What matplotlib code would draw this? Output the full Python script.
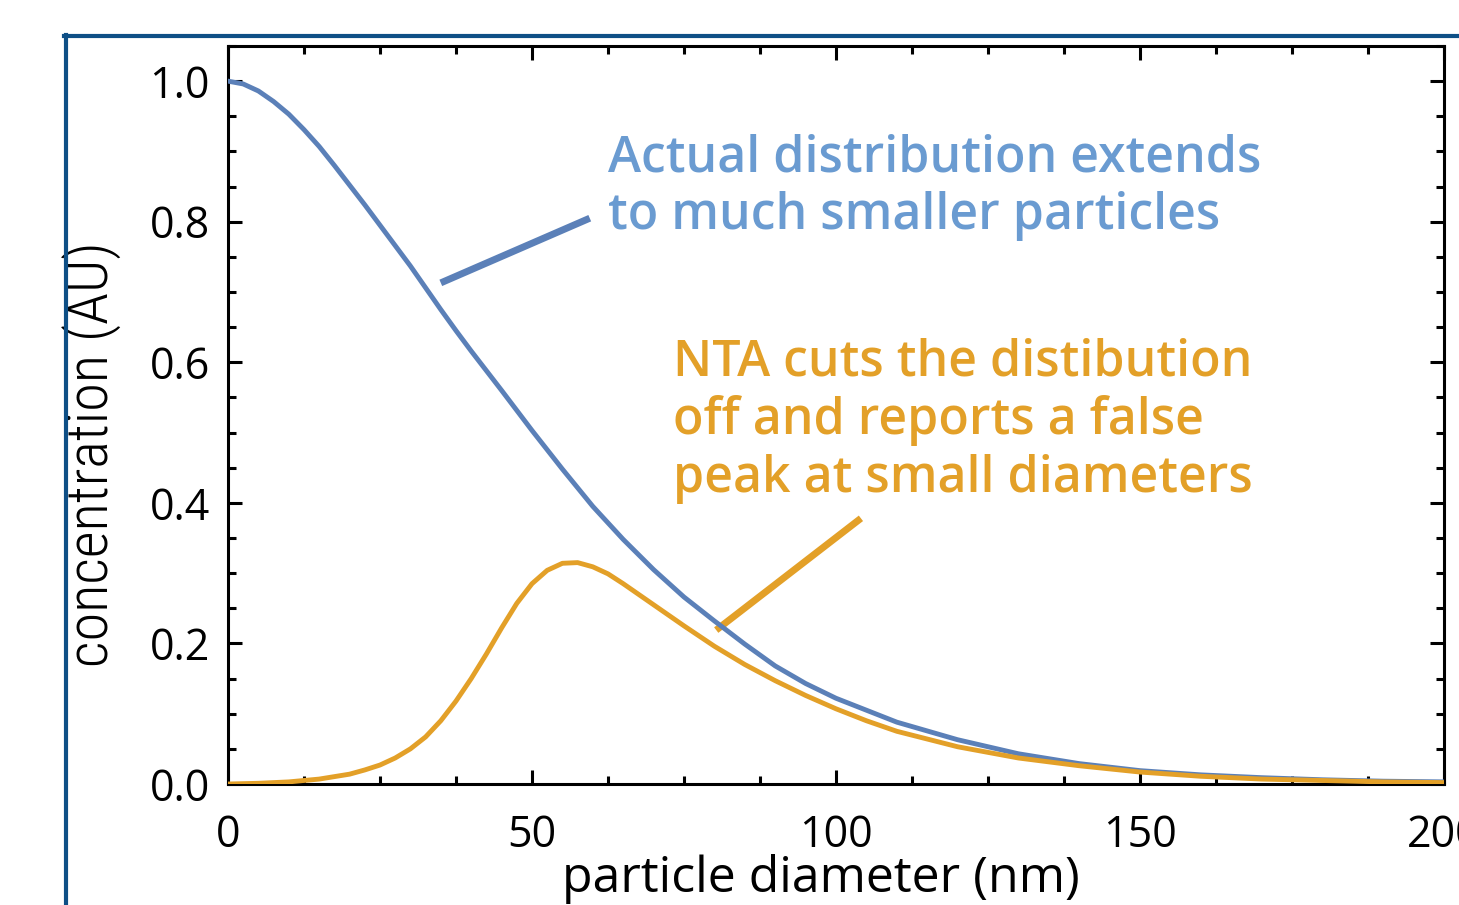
import numpy as np
import matplotlib
matplotlib.use("Agg")
import matplotlib.pyplot as plt
from matplotlib.lines import Line2D
from matplotlib.ticker import MultipleLocator
from matplotlib import font_manager

plt.rcParams["font.family"] = ["Open Sans", "DejaVu Sans"]

# ----- data --------------------------------------------------------------
diam_actual = [0, 2.5, 5, 7.5, 10, 12.5, 15, 17.5, 20, 22.5, 25, 27.5, 30,
               32.5, 35, 37.5, 40, 45, 50, 55, 60, 65, 70, 75, 80, 85, 90, 95,
               100, 110, 120, 130, 140, 150, 160, 170, 180, 190, 200]
conc_actual = [1.000, 0.996, 0.986, 0.971, 0.953, 0.931, 0.907, 0.880, 0.852,
               0.824, 0.795, 0.766, 0.737, 0.706, 0.675, 0.645, 0.616, 0.560,
               0.503, 0.448, 0.395, 0.348, 0.305, 0.266, 0.232, 0.199, 0.168,
               0.143, 0.122, 0.088, 0.063, 0.043, 0.029, 0.019, 0.013, 0.009,
               0.006, 0.004, 0.003]

diam_nta = [0, 5, 10, 15, 20, 22.5, 25, 27.5, 30, 32.5, 35, 37.5, 40, 42.5,
            45, 47.5, 50, 52.5, 55, 57.5, 60, 62.5, 65, 67.5, 70, 72.5, 75,
            80, 85, 90, 95, 100, 105, 110, 120, 130, 140, 150, 160, 170, 180,
            190, 200]
conc_nta = [0.000, 0.001, 0.003, 0.007, 0.014, 0.020, 0.027, 0.037, 0.050,
            0.067, 0.090, 0.118, 0.150, 0.185, 0.222, 0.257, 0.285, 0.304,
            0.314, 0.315, 0.309, 0.299, 0.285, 0.270, 0.255, 0.240, 0.225,
            0.196, 0.170, 0.147, 0.126, 0.107, 0.090, 0.075, 0.053, 0.037,
            0.026, 0.017, 0.011, 0.007, 0.005, 0.003, 0.002]

BLUE = "#5b80b8"
BLUE_TXT = "#6a9bd1"
ORANGE = "#e3a028"
FRAME = "#0e4f86"

fig = plt.figure(figsize=(14.59, 9.05), dpi=100)
ax = fig.add_axes([228 / 1459, 1 - 784 / 905, (1444 - 228) / 1459, (784 - 46) / 905])

ax.plot(diam_actual, conc_actual, color=BLUE, lw=3.5, zorder=3)
ax.plot(diam_nta, conc_nta, color=ORANGE, lw=3.5, zorder=3)

ax.set_xlim(0, 200)
ax.set_ylim(0, 1.05)
ax.xaxis.set_major_locator(MultipleLocator(50))
ax.xaxis.set_minor_locator(MultipleLocator(12.5))
ax.yaxis.set_major_locator(MultipleLocator(0.2))
ax.yaxis.set_minor_locator(MultipleLocator(0.05))
ax.set_yticklabels([f"{v:.1f}" for v in ax.get_yticks()])

for s in ax.spines.values():
    s.set_linewidth(2.2)
ax.tick_params(which="both", direction="in", top=True, right=True, width=2.2)
ax.tick_params(which="major", length=10, labelsize=31)
ax.tick_params(which="minor", length=6)
ax.tick_params(axis="x", which="major", pad=21)
ax.tick_params(axis="y", which="major", pad=13)

ax.set_xlabel("particle diameter (nm)", fontsize=36, labelpad=-3)
ax.xaxis.label.set_x((821 - 228) / 1216)

# the reference uses a light condensed face for the y label; use one only if
# a non-bold weight is installed
weights = {}
for f in font_manager.fontManager.ttflist:
    w = f.weight if isinstance(f.weight, int) else 400
    weights.setdefault(f.name, []).append(w)
ylab_family = None
for fam in ["Open Sans Condensed", "Roboto Condensed", "Liberation Sans Narrow"]:
    if fam in weights and min(weights[fam]) <= 400:
        ylab_family = fam
        break
if ylab_family:
    ax.set_ylabel("concentration (AU)", fontsize=42, family=ylab_family,
                  fontweight="light", labelpad=20)
else:
    ax.set_ylabel("concentration (AU)", fontsize=34, labelpad=18)
ax.yaxis.label.set_y((784 - 454) / 738)

# annotations
ax.text(62.5, 0.925, "Actual distribution extends\nto much smaller particles",
        color=BLUE_TXT, fontsize=36, fontweight="semibold", ha="left", va="top",
        linespacing=1.2)
ax.plot([35.0, 59.5], [0.713, 0.805], color=BLUE, lw=5, solid_capstyle="butt",
        clip_on=False)

ax.text(73.2, 0.635, "NTA cuts the distibution\noff and reports a false\npeak at small diameters",
        color=ORANGE, fontsize=36, fontweight="semibold", ha="left", va="top",
        linespacing=1.2)
ax.plot([80.3, 104.1], [0.219, 0.378], color=ORANGE, lw=5, solid_capstyle="butt",
        clip_on=False)

# slide frame around the chart
fig.add_artist(Line2D([65.5 / 1459, 65.5 / 1459], [0, 1 - 35 / 905],
                      color=FRAME, lw=3, transform=fig.transFigure))
fig.add_artist(Line2D([64 / 1459, 1], [1 - 36.5 / 905, 1 - 36.5 / 905],
                      color=FRAME, lw=3, transform=fig.transFigure))

fig.savefig("out.png", dpi=100)
